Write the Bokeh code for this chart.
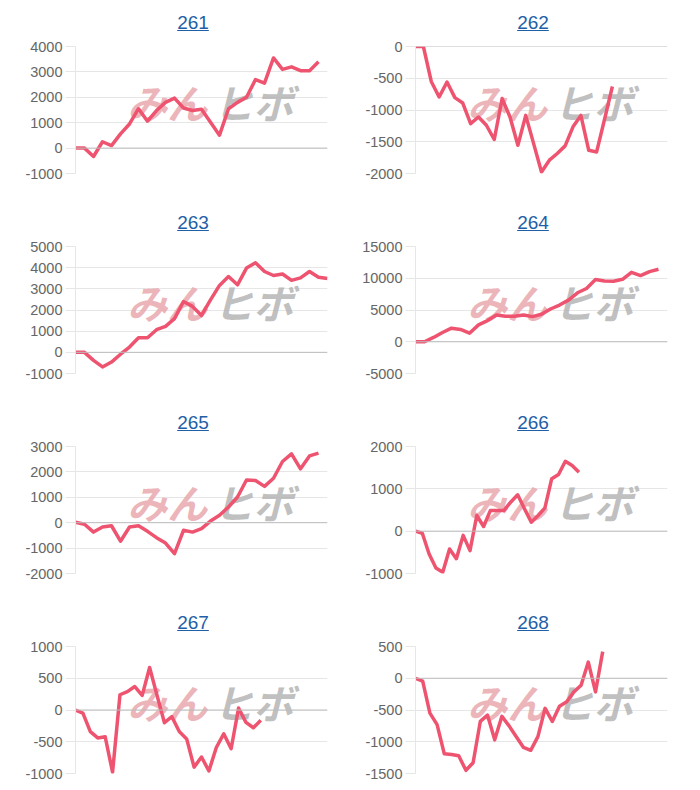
from bokeh.plotting import figure
from bokeh.layouts import column, row
from bokeh.models import Div, Range1d, FixedTicker, Span
from bokeh.embed import file_html
from bokeh.resources import INLINE
from bokeh.core.properties import value

titles = ["261", "262", "263", "264", "265", "266", "267", "268"]

s261 = [0, 0, -330, 250, 100, 560, 950, 1550, 1060, 1480, 1800, 1970, 1580, 1480,
        1530, 1020, 510, 1550, 1800, 2000, 2700, 2560, 3550, 3100, 3200, 3050, 3050, 3400]
s262 = [0, 0, -550, -795, -560, -805, -890, -1215, -1110, -1240, -1465, -820, -1110,
        -1555, -1085, -1530, -1975, -1790, -1685, -1565, -1265, -1085, -1635, -1660,
        -1150, -630]
s263 = [0, 0, -380, -690, -460, -90, 250, 690, 690, 1070, 1230, 1590, 2400, 2170,
        1745, 2480, 3160, 3580, 3190, 3980, 4230, 3820, 3630, 3700, 3400, 3520, 3820,
        3550, 3490]
s264 = [0, 0, 680, 1460, 2140, 1930, 1350, 2660, 3330, 4220, 4010, 4010, 4220, 3960,
        4320, 5160, 5780, 6560, 7710, 8390, 9790, 9580, 9530, 9840, 10940, 10420,
        11040, 11410]
s265 = [20, -60, -370, -170, -120, -730, -170, -120, -340, -590, -800, -1220, -300,
        -370, -235, 65, 290, 620, 1010, 1680, 1660, 1430, 1750, 2410, 2710, 2120,
        2630, 2740]
s266 = [0, -50, -540, -870, -970, -420, -650, -100, -460, 370, 110, 490, 490, 490,
        690, 860, 530, 210, 370, 550, 1240, 1340, 1650, 1550, 1390]
s267 = [0, -50, -340, -440, -420, -980, 240, 290, 370, 230, 670, 230, -200, -105,
        -340, -455, -900, -740, -960, -590, -375, -610, 30, -195, -280, -160]
s268 = [0, -47, -550, -730, -1190, -1200, -1220, -1450, -1330, -680, -580, -970,
        -600, -750, -920, -1090, -1135, -920, -475, -680, -440, -370, -215, -110,
        255, -215, 420]

series = [s261, s262, s263, s264, s265, s266, s267, s268]
x_slots = [29, 33, 29, 29, 29, 38, 35, 36]
y_min = [-1000, -2000, -1000, -5000, -2000, -1000, -1000, -1500]
y_max = [4000, 0, 5000, 15000, 3000, 2000, 1000, 500]
y_step = [1000, 500, 1000, 5000, 1000, 1000, 500, 500]

LINE = "#ee5470"
GRID = "#e6e6e6"
LABEL = "#666666"
FONT = "Liberation Sans"


def make_cell(idx, last_row):
    vals = series[idx]
    xs = list(range(len(vals)))
    n = x_slots[idx]
    lo, hi, st = y_min[idx], y_max[idx], y_step[idx]
    frame_h = 127
    top, bottom = 8, (10 if last_row else 35)
    p = figure(width=340, height=top + frame_h + bottom,
               output_backend="svg", toolbar_location=None,
               x_range=Range1d(0, n - 1), y_range=Range1d(lo, hi),
               min_border_left=67, min_border_right=21,
               min_border_top=top, min_border_bottom=bottom)
    p.outline_line_color = None
    p.xaxis.visible = False
    p.xgrid.visible = False
    p.ygrid.grid_line_color = GRID
    p.ygrid.grid_line_width = 1
    ticks = list(range(lo, hi + 1, st))
    p.yaxis.ticker = FixedTicker(ticks=ticks)
    p.yaxis.major_label_overrides = {t: str(t) for t in ticks}
    p.yaxis.axis_line_color = GRID
    p.yaxis.major_tick_line_color = GRID
    p.yaxis.major_tick_out = 10
    p.yaxis.major_tick_in = 0
    p.yaxis.minor_tick_line_color = None
    p.yaxis.major_label_standoff = 3
    p.yaxis.major_label_text_color = LABEL
    p.yaxis.major_label_text_font = FONT
    p.yaxis.major_label_text_font_size = "14.5px"

    # watermark (logo-like text)
    xr = n - 1
    yr = hi - lo
    p.text(x=[0.364 * xr], y=[lo + 0.565 * yr], text=["みん"],
           text_font=value("Noto Sans CJK JP"), text_font_style="bold italic",
           text_font_size="40px", text_color="#e8a8ae", text_alpha=0.85,
           text_align="center", text_baseline="middle")
    p.text(x=[0.706 * xr], y=[lo + 0.565 * yr], text=["ヒボ"],
           text_font=value("Noto Sans CJK JP"), text_font_style="bold italic",
           text_font_size="40px", text_color="#b5b5b5", text_alpha=0.85,
           text_align="center", text_baseline="middle")

    if lo < 0 <= hi:
        p.add_layout(Span(location=0, dimension="width", line_color="#bdbdbd",
                          line_width=1))

    p.line(xs, vals, line_color=LINE, line_width=3.5, line_join="round")

    title = Div(
        text=('<div style="width:340px;height:30px;line-height:30px;text-align:center;'
              'padding-left:30px;box-sizing:border-box;font-family:\'Liberation Sans\',Arial;'
              'font-size:19px;"><a href="#" style="color:#1e5fa8;'
              'text-decoration:underline;">' + titles[idx] + '</a></div>'),
        width=340, height=30, margin=(0, 0, 0, 0))
    return column(title, p, spacing=0)


rows = []
for r in range(4):
    last = (r == 3)
    rows.append(row(make_cell(2 * r, last), make_cell(2 * r + 1, last), spacing=0))

layout = column(*rows, spacing=0, margin=(8, 0, 0, 8))

open("out.html", "w").write(file_html(layout, INLINE))
